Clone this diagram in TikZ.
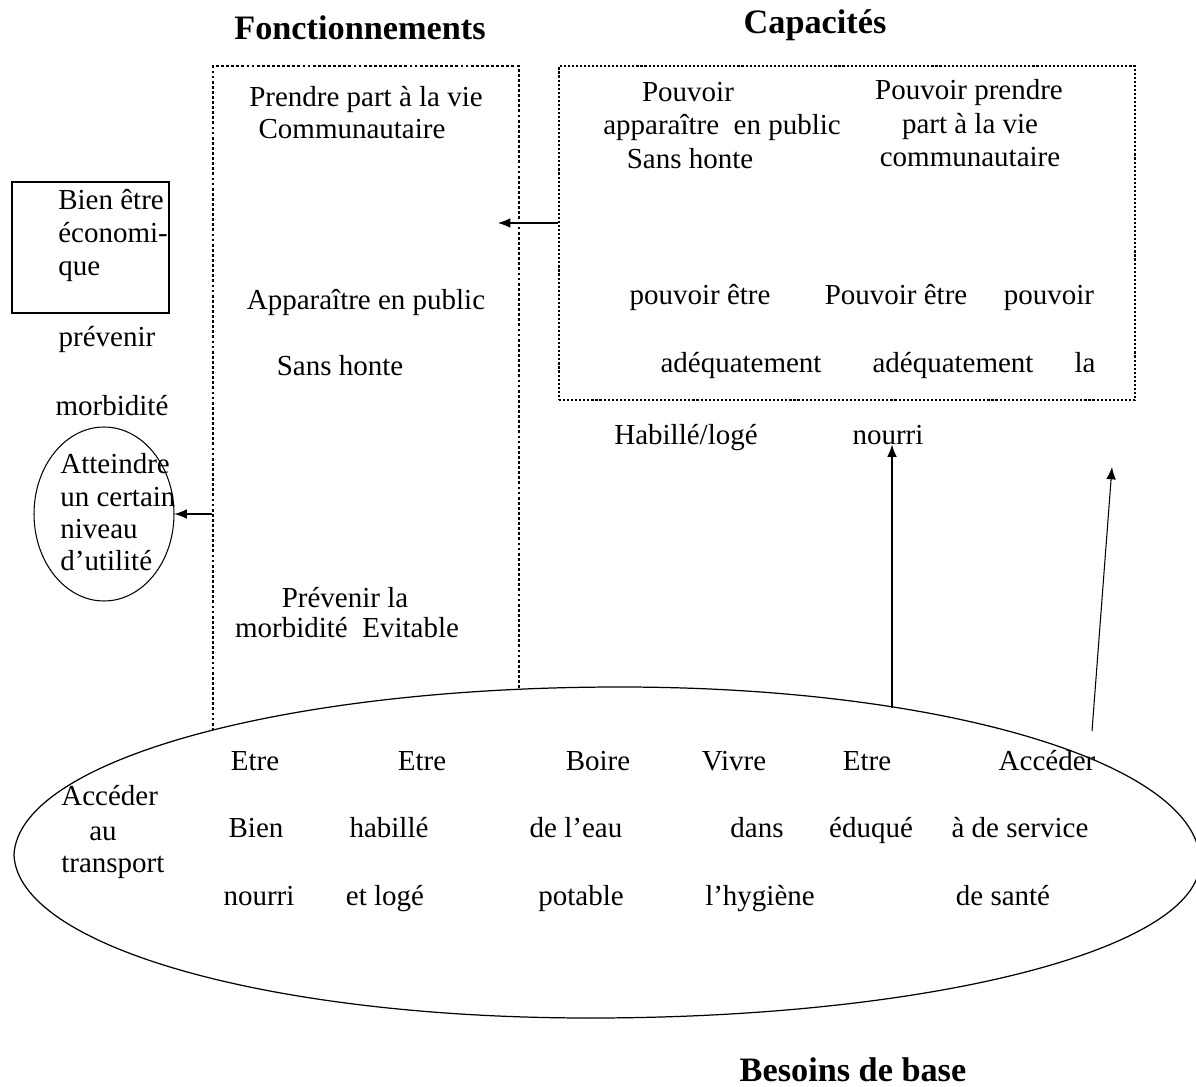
\documentclass[tikz,border=0pt]{standalone}
\usepackage{fontspec}
\setmainfont{Liberation Serif}
\usetikzlibrary{arrows.meta, shapes}

\begin{document}
\begin{tikzpicture}[x=0.02cm, y=-0.02cm,
	txt/.style={inner sep=0pt, anchor=base, font=\fontsize{16.5}{18}\selectfont},
	titre/.style={inner sep=0pt, anchor=base, font=\fontsize{19.5}{21}\selectfont\bfseries},
	grospoints/.style={draw, line width=1.6pt, dash pattern=on 1.6pt off 1.3pt, inner sep=0pt},
	finpoints/.style={draw, line width=1.2pt, dash pattern=on 1.2pt off 1.1pt, inner sep=0pt},
	fleche/.style={-{Latex[length=7pt, width=5.5pt]}, line width=0.6pt}]
	\useasboundingbox				(0,0) rectangle (1196,1087);

	\node[titre] (tfonc)				at (360,40) {Fonctionnements};
	\node[titre] (tcapa)				at (815,34) {Capacités};
	\node[titre] (tbesoins)				at (853,1081) {Besoins de base};

	\node[grospoints, minimum width=6.12cm, minimum height=14.68cm] (fonc)	at (366,433) {};
	\node[finpoints, minimum width=11.52cm, minimum height=6.68cm] (capa)	at (847,233) {};
	\node[draw, line width=0.6pt, inner sep=0pt, minimum width=3.14cm, minimum height=2.62cm] (eco) at (90.5,247.5) {};
	\node[draw, ellipse, line width=0.6pt, inner sep=0pt, minimum width=2.8cm, minimum height=3.48cm] (util) at (104,514) {};

	\draw[fill=white, line width=0.7pt]	(14,855) .. controls (18,761) and (281,687) .. (620,687)
						.. controls (945,687) and (1200,764) .. (1200,862)
						.. controls (1200,949) and (932,1018) .. (590,1018)
						.. controls (267,1018) and (18,946) .. (14,855);

	\foreach \t [count=\i] in {Bien être, économi-, que}
		\node[txt, anchor=base west] (eco\i)	at (58,177+33*\i) {\t};
	\node[txt] (prev)				at (107,347) {prévenir};
	\node[txt] (morb)				at (112,416) {morbidité};
	\foreach \t [count=\i] in {Atteindre, un certain, niveau, d’utilité}
		\node[txt, anchor=base west] (util\i)	at (60,442+32*\i) {\t};

	\node[txt] (f1)					at (366,107) {Prendre part à la vie};
	\node[txt] (f2)					at (352,139) {Communautaire};
	\node[txt] (f3)					at (366,310) {Apparaître en public};
	\node[txt] (f4)					at (340,376) {Sans honte};
	\node[txt] (f5)					at (345,607) {Prévenir la};
	\node[txt] (f6)					at (347,637) {morbidité\ \ Evitable};

	\node[txt] (c1)					at (688,102) {Pouvoir};
	\node[txt] (c2)					at (722,135) {apparaître\ \ en public};
	\node[txt] (c3)					at (690,169) {Sans honte};
	\node[txt] (c4)					at (969,100) {Pouvoir prendre};
	\node[txt] (c5)					at (970,134) {part à la vie};
	\node[txt] (c6)					at (970,167) {communautaire};
	\node[txt] (c7)					at (700,305) {pouvoir être};
	\node[txt] (c8)					at (896,305) {Pouvoir être};
	\node[txt] (c9)					at (1049,305) {pouvoir};
	\node[txt] (c10)				at (741,373) {adéquatement};
	\node[txt] (c11)				at (953,373) {adéquatement};
	\node[txt] (c12)				at (1085,373) {la};
	\node[txt] (habille)				at (686,444) {Habillé/logé};
	\node[txt] (nourri)				at (888,444) {nourri};

	\node[txt, anchor=base west] (acc1)		at (61,805) {Accéder};
	\node[txt] (acc2)				at (103,840) {au};
	\node[txt, anchor=base west] (acc3)		at (61,872) {transport};
	\foreach \x/\t [count=\i] in {255/Etre, 422/Etre, 598/Boire, 734/Vivre, 867/Etre, 1047/Accéder}
		\node[txt] (ba\i)			at (\x,770) {\t};
	\foreach \x/\t [count=\i] in {256/Bien, 389/habillé, 576/de l’eau, 757/dans, 871/éduqué, 1020/à de service}
		\node[txt] (bb\i)			at (\x,837) {\t};
	\foreach \x/\t [count=\i] in {259/nourri, 385/et logé, 581/potable, 760/l’hygiène, 1003/de santé}
		\node[txt] (bc\i)			at (\x,905) {\t};

	\coordinate (fonctip)				at (498,223);
	\coordinate (b1)				at (892,708);
	\coordinate (b2)				at (1092,731);
	\coordinate (b2tip)				at (1112,467);
	\draw[fleche]					(capa.west |- fonctip) -- (fonctip);
	\draw[fleche]					(fonc.west |- util.east) -- (util.east);
	\draw[fleche]					(b1) -- (b1 |- nourri.south);
	\draw[fleche]					(b2) -- (b2tip);
\end{tikzpicture}
\end{document}
